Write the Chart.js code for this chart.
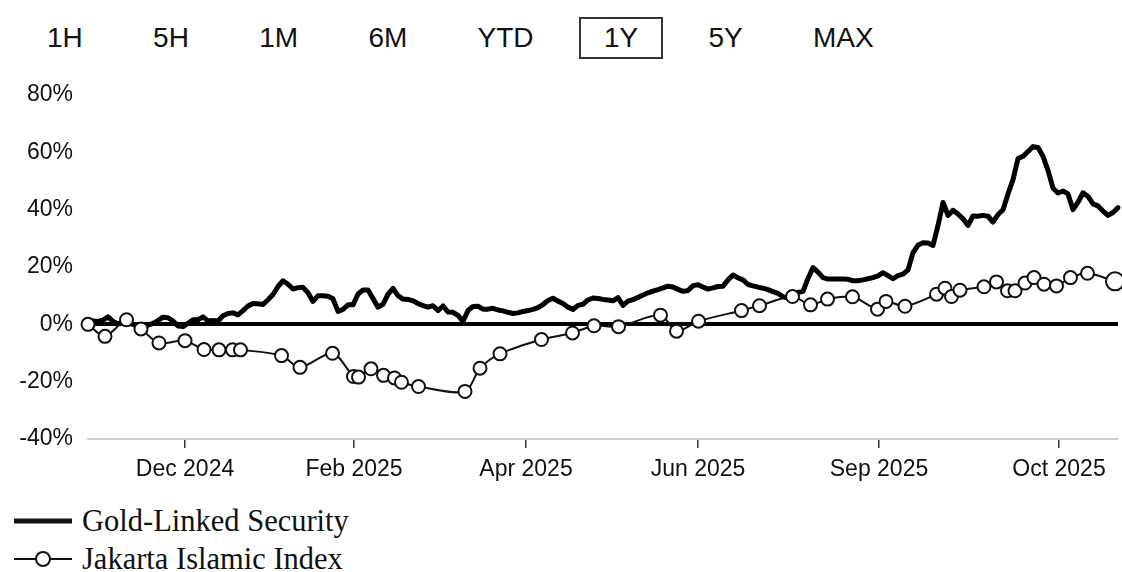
<!DOCTYPE html>
<html>
<head>
<meta charset="utf-8">
<script src="https://cdn.jsdelivr.net/npm/chart.js@4.4.1/dist/chart.umd.min.js"></script>
<style>
  html, body { margin: 0; padding: 0; background: #fff; }
  body { width: 1122px; height: 572px; position: relative; overflow: hidden; }
  #ranges { position: absolute; left: 22px; top: 17px; display: flex; gap: 20.3px;
    font-family: "Liberation Sans", Arial, sans-serif;
    font-size: 28px; color: #111; }
  #ranges span { display: block; height: 38px; line-height: 38px; padding: 0 23px; border: 2px solid transparent; }
  #ranges span.active { border-color: #333; }
  #wrap { position: absolute; left: 0; top: 70px; width: 1129px; height: 420px; }
  #legend { position: absolute; left: 14px; top: 502px; font-family: "Liberation Serif", "Times New Roman", serif;
    font-size: 30.5px; color: #111; }
  #legend .row { display: flex; align-items: center; height: 38px; }
  #legend svg { margin-right: 10px; }
</style>
</head>
<body>
<div id="ranges"></div>
<div id="wrap"><canvas id="c"></canvas></div>
<div id="legend"></div>
<script>
// ---- data ----
const rangeButtons = ['1H', '5H', '1M', '6M', 'YTD', '1Y', '5Y', 'MAX'];
const activeRange = '1Y';

const seriesNames = ['Gold-Linked Security', 'Jakarta Islamic Index'];

// Gold-Linked Security, % return, one value per trading step
const goldValues = [
  0.0, 1.2, 1.0, 1.5, 2.6, 1.0, 0.2, 0.8, 0.5, 0.0,
  -1.0, -0.6, -0.3, 0.3, 1.3, 2.5, 2.3, 1.2, -0.6, -0.8,
  0.4, 1.6, 1.6, 2.6, 1.2, 1.3, 1.2, 3.0, 3.8, 4.0,
  3.3, 4.8, 6.4, 7.3, 7.2, 6.9, 8.6, 10.4, 13.2, 15.2,
  14.0, 12.3, 12.8, 12.9, 11.0, 8.0, 10.0, 10.0, 9.8, 8.9,
  4.5, 5.2, 6.8, 6.8, 10.5, 12.0, 12.0, 9.0, 6.0, 7.0,
  10.5, 12.5, 10.0, 8.8, 8.7, 8.2, 7.3, 6.5, 6.0, 6.5,
  4.8, 6.4, 4.3, 4.2, 3.1, 1.0, 4.8, 6.2, 6.3, 5.3,
  5.3, 5.6, 5.0, 4.7, 4.2, 3.8, 4.0, 4.5, 4.8, 5.2,
  5.8, 6.9, 8.3, 9.1, 8.1, 7.3, 6.0, 5.2, 6.6, 7.0,
  8.5, 9.2, 9.0, 8.7, 8.5, 8.2, 9.3, 6.6, 8.1, 8.6,
  9.4, 10.2, 11.0, 11.6, 12.1, 12.7, 13.3, 13.0, 12.2, 11.5,
  11.8, 13.5, 13.8, 13.0, 12.3, 12.7, 13.2, 13.3, 15.5, 17.2,
  16.2, 15.5, 13.9, 13.4, 13.0, 12.6, 12.1, 11.4, 10.8, 9.6,
  9.2, 10.7, 11.1, 11.5, 16.0, 19.8, 18.2, 16.3, 15.8, 15.8,
  15.8, 15.8, 15.7, 15.2, 15.2, 15.5, 15.9, 16.3, 16.9, 18.0,
  17.0, 15.9, 17.0, 17.5, 19.0, 25.0, 27.6, 28.5, 28.4, 27.5,
  34.5, 42.5, 38.0, 39.8, 38.5, 36.8, 34.5, 37.8, 37.7, 38.0,
  37.7, 35.7, 38.3, 40.0, 45.5, 50.5, 57.8, 58.6, 60.3, 62.0,
  61.7, 58.6, 53.7, 47.5, 45.8, 46.5, 45.5, 40.0, 42.6, 45.9,
  44.6, 42.0, 41.3, 39.5, 38.0, 39.0, 40.7
];

// Jakarta Islamic Index: observation step and % return
const jiiSteps = [
  0, 3.4, 7.7, 10.6, 14.2, 19.4, 23.2, 26.2, 28.9, 30.5,
  38.7, 42.4, 48.9, 53.1, 54.1, 56.6, 59.1, 61.3, 62.7, 66.1,
  75.4, 78.4, 82.4, 90.7, 96.9, 101.2, 106.1, 114.5, 117.7, 122.1,
  130.7, 134.3, 140.9, 144.5, 147.9, 152.9, 157.9, 159.6, 163.4, 169.7,
  171.4, 172.7, 174.4, 179.2, 181.7, 183.9, 185.4, 187.4, 189.2, 191.2,
  193.7, 196.5, 199.9, 205.4
];
const jiiValues = [
  0.0, -4.2, 1.6, -1.6, -6.5, -5.7, -8.8, -8.9, -8.9, -8.9,
  -10.9, -15.0, -10.1, -18.2, -18.4, -15.5, -17.8, -18.7, -20.2, -21.7,
  -23.4, -15.3, -10.3, -5.3, -3.0, -0.5, -0.8, 3.2, -2.4, 1.1,
  4.8, 6.5, 9.7, 6.8, 8.8, 9.6, 5.3, 8.0, 6.3, 10.5,
  12.6, 9.7, 11.9, 13.1, 14.8, 11.7, 11.7, 14.4, 16.3, 14.0,
  13.4, 16.3, 17.8, 15.0
];

// x-axis tick labels and the steps where they sit
const xTickSteps = [19.4, 53.2, 87.6, 122.0, 158.2, 194.2];
const xTickLabels = ['Dec 2024', 'Feb 2025', 'Apr 2025', 'Jun 2025', 'Sep 2025', 'Oct 2025'];

// y-axis range / ticks (%)
const yMin = -40, yMax = 80, yStep = 20;

// ---- range buttons ----
const ranges = document.getElementById('ranges');
rangeButtons.forEach(r => {
  const s = document.createElement('span');
  s.textContent = r;
  if (r === activeRange) s.className = 'active';
  ranges.appendChild(s);
});

// ---- legend ----
const legend = document.getElementById('legend');
legend.innerHTML =
  '<div class="row"><svg width="58" height="20"><line x1="0" y1="10" x2="58" y2="10" stroke="#111" stroke-width="5"/></svg><span>' + seriesNames[0] + '</span></div>' +
  '<div class="row"><svg width="58" height="20"><line x1="0" y1="10" x2="58" y2="10" stroke="#111" stroke-width="2"/><circle cx="29" cy="10" r="7" fill="#fff" stroke="#111" stroke-width="2"/></svg><span>' + seriesNames[1] + '</span></div>';

// ---- chart ----
const tickFont = { family: '"Liberation Sans", Arial, sans-serif', size: 23 };
const lastJii = jiiValues.length - 1;

new Chart(document.getElementById('c'), {
  type: 'line',
  data: {
    datasets: [
      {
        label: seriesNames[1],
        data: jiiSteps.map((s, i) => ({ x: s, y: jiiValues[i] })),
        borderColor: '#111',
        borderWidth: 2,
        tension: 0.3,
        pointRadius: ctx => ctx.dataIndex === lastJii ? 9 : 6.5,
        pointBackgroundColor: '#fff',
        pointBorderColor: '#111',
        pointBorderWidth: 2,
        order: 0,
        clip: false
      },
      {
        label: seriesNames[0],
        data: goldValues.map((v, i) => ({ x: i, y: v })),
        borderColor: '#000',
        borderWidth: 5,
        pointRadius: 0,
        tension: 0,
        borderJoinStyle: 'round',
        borderCapStyle: 'round',
        order: 1,
        clip: false
      }
    ]
  },
  options: {
    responsive: true,
    maintainAspectRatio: false,
    animation: false,
    layout: { padding: { top: 25, right: 0, left: 0, bottom: 0 } },
    plugins: { legend: { display: false }, tooltip: { enabled: false } },
    scales: {
      x: {
        type: 'linear',
        min: 0,
        max: goldValues.length - 1,
        afterBuildTicks: scale => { scale.ticks = xTickSteps.map(v => ({ value: v })); },
        afterFit: scale => { scale.height = 51; scale.paddingLeft = 0; scale.paddingRight = 0; },
        ticks: {
          autoSkip: false,
          maxRotation: 0,
          padding: 8,
          color: '#111',
          font: tickFont,
          callback: (v, i) => xTickLabels[i]
        },
        grid: { display: true, drawOnChartArea: false, drawTicks: true, tickLength: 9, color: '#333', lineWidth: 1.5 },
        border: { display: true, color: '#cfcfcf', width: 2 }
      },
      y: {
        min: yMin,
        max: yMax,
        afterFit: scale => { scale.width = 88; scale.paddingTop = 0; scale.paddingBottom = 0; },
        ticks: {
          stepSize: yStep,
          padding: 15,
          color: '#111',
          font: tickFont,
          callback: v => v + '%'
        },
        grid: {
          drawTicks: false,
          color: ctx => ctx.tick && ctx.tick.value === 0 ? '#000' : 'rgba(0,0,0,0)',
          lineWidth: ctx => ctx.tick && ctx.tick.value === 0 ? 4 : 0
        },
        border: { display: false }
      }
    }
  }
});
</script>
</body>
</html>
